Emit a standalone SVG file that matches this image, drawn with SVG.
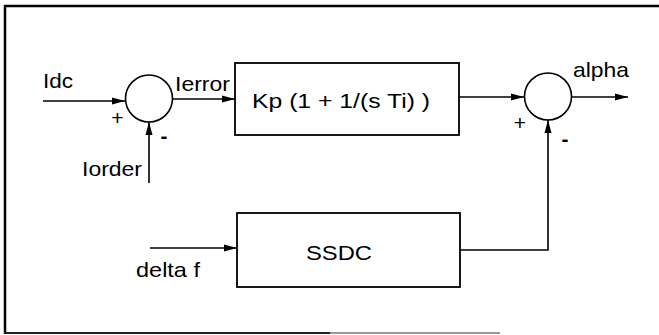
<svg xmlns="http://www.w3.org/2000/svg" width="659" height="335" viewBox="0 0 659 335">
<defs>
<style>
.t{font-family:"Liberation Sans",Arial,sans-serif;font-size:21px;fill:#000}
.s{font-family:"Liberation Sans",Arial,sans-serif;font-size:21px;fill:#000}
.ln{stroke:#000;stroke-width:1.6;fill:none}
.bx{stroke:#000;stroke-width:1.8;fill:#fff}
</style>
<marker id="ah" markerWidth="13" markerHeight="8" refX="13" refY="4" orient="auto" markerUnits="userSpaceOnUse">
<path d="M0,0.5 L13,4 L0,7.5 Z" fill="#000"/>
</marker>
</defs>
<rect width="659" height="335" fill="#fff"/>
<g id="frame">
<line x1="4" y1="6" x2="659" y2="6" stroke="#000" stroke-width="2.5"/>
<line x1="5" y1="5" x2="5" y2="334" stroke="#000" stroke-width="2.5"/>
<line x1="4" y1="333" x2="330" y2="333" stroke="#222" stroke-width="1.8"/>
<line x1="330" y1="333" x2="500" y2="333" stroke="#999" stroke-width="1.8"/>
</g>
<g id="connectors">
<line class="ln" x1="43" y1="101" x2="125" y2="101" marker-end="url(#ah)"/>
<line class="ln" x1="149" y1="183" x2="149" y2="122" marker-end="url(#ah)"/>
<line class="ln" x1="172" y1="99" x2="235" y2="99" marker-end="url(#ah)"/>
<line class="ln" x1="459" y1="97" x2="524" y2="97" marker-end="url(#ah)"/>
<line class="ln" x1="571" y1="97" x2="628" y2="97" marker-end="url(#ah)"/>
<polyline class="ln" points="460,250 548,250 548,120" marker-end="url(#ah)"/>
<line class="ln" x1="150" y1="248" x2="237" y2="248" marker-end="url(#ah)"/>
</g>
<g id="sum1">
<circle cx="149" cy="98.5" r="23.5" class="ln"/>
<text class="s" x="117.5" y="125" text-anchor="middle">+</text>
<text class="s" x="164" y="143" text-anchor="middle" font-weight="bold">-</text>
</g>
<g id="sum2">
<circle cx="548" cy="96.5" r="23.5" class="ln"/>
<text class="s" x="520" y="130" text-anchor="middle">+</text>
<text class="s" x="565" y="146" text-anchor="middle" font-weight="bold">-</text>
</g>
<g id="pi">
<rect class="bx" x="235" y="63" width="224" height="72"/>
<text class="t" x="252" y="108" textLength="178" lengthAdjust="spacingAndGlyphs">Kp (1 + 1/(s Ti) )</text>
</g>
<g id="ssdc">
<rect class="bx" x="237" y="213" width="223" height="74"/>
<text class="t" x="306" y="260" textLength="66" lengthAdjust="spacingAndGlyphs">SSDC</text>
</g>
<g id="labels">
<text class="t" x="43" y="88" textLength="30" lengthAdjust="spacingAndGlyphs">Idc</text>
<text class="t" x="175" y="91" textLength="55" lengthAdjust="spacingAndGlyphs">Ierror</text>
<text class="t" x="82" y="176" textLength="60" lengthAdjust="spacingAndGlyphs">Iorder</text>
<text class="t" x="573" y="77" textLength="56" lengthAdjust="spacingAndGlyphs">alpha</text>
<text class="t" x="136" y="277" textLength="64" lengthAdjust="spacingAndGlyphs">delta f</text>
</g>
</svg>
